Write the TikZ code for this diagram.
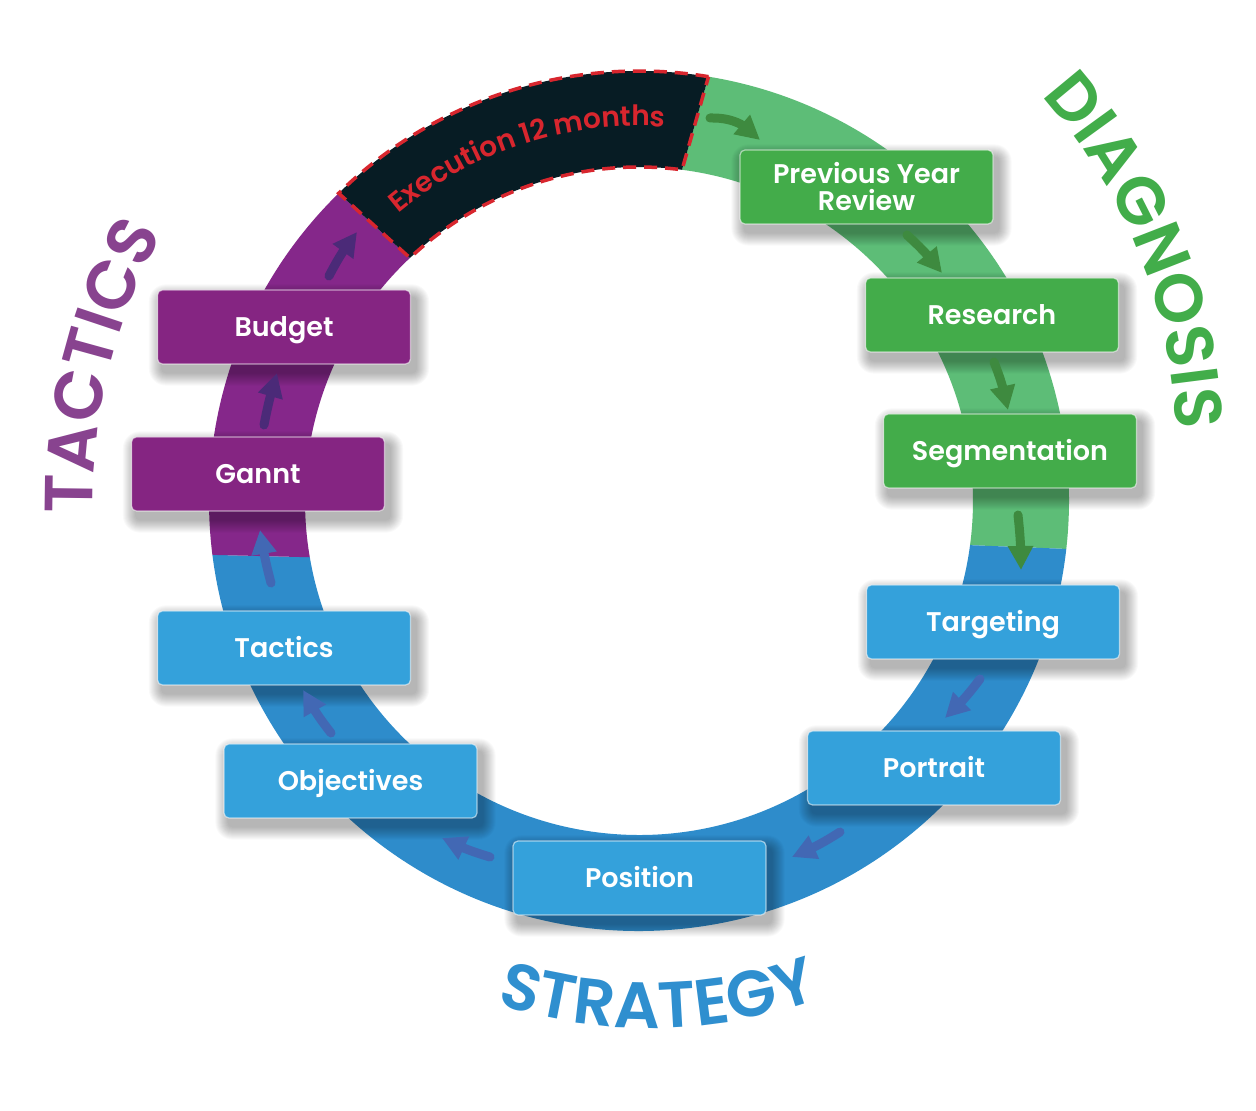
\documentclass[tikz,border=0pt]{standalone}
\usepackage{fontspec}
\newfontfamily\boxfont{Poppins SemiBold}
\newfontfamily\headfont{Poppins SemiBold}
\usetikzlibrary{arrows.meta,decorations.text,bending}
\pgfdeclarelayer{ringlayer}
\pgfdeclarelayer{shadowlayer}
\pgfsetlayers{ringlayer,shadowlayer,main}
\definecolor{ringgreen}{HTML}{5DBD77}
\definecolor{ringblue}{HTML}{2E8CCB}
\definecolor{ringpurple}{HTML}{85278A}
\definecolor{ringdark}{HTML}{071C24}
\definecolor{boxgreen}{HTML}{43AC4A}
\definecolor{boxblue}{HTML}{34A1DB}
\definecolor{boxpurple}{HTML}{852582}
\definecolor{arrgreen}{HTML}{3E8A3F}
\definecolor{arrblue}{HTML}{4268B4}
\definecolor{arrpurple}{HTML}{4B2A78}
\definecolor{labgreen}{HTML}{42AD4A}
\definecolor{labpurple}{HTML}{88438F}
\definecolor{labblue}{HTML}{2F8FCF}
\definecolor{execred}{HTML}{D8262E}
\begin{document}
\begin{tikzpicture}[x=1pt,y=1pt,
  stagebox/.style={rectangle, rounded corners=5pt, minimum width=253pt, minimum height=74pt,
    inner sep=0pt, text=white, align=center,
    font=\boxfont\fontsize{27}{27}\selectfont,
    draw=white, draw opacity=0.55, line width=1.2pt},
  onelinebox/.style={text height=19pt, text depth=0pt},
  greenbox/.style={stagebox, fill=boxgreen},
  bluebox/.style={stagebox, fill=boxblue},
  purplebox/.style={stagebox, fill=boxpurple},
  shadowlayerfill/.style={fill=black, opacity=0.024},
  flowarrow/.style={line width=9pt, line cap=round, -{Triangle[length=24pt,width=24pt]}}
]
\useasboundingbox (0,0) rectangle (1256,1111);

\begin{pgfonlayer}{ringlayer}
\fill[white] (0,0) rectangle (1256,1111);
\begin{scope}[shift={(639,610)}]
  \fill[ringgreen] (-6.4:430pt) arc[start angle=-6.4, end angle=80.7, radius=430pt]
     -- (82.6:334pt) arc[start angle=82.6, end angle=-7.6, radius=334pt] -- cycle;
  \fill[ringblue] (187.2:430pt) arc[start angle=187.2, end angle=353.6, radius=430pt]
     -- (352.4:334pt) arc[start angle=352.4, end angle=189.7, radius=334pt] -- cycle;
  \fill[ringpurple] (134.3:430pt) arc[start angle=134.3, end angle=187.2, radius=430pt]
     -- (189.7:334pt) arc[start angle=189.7, end angle=133.3, radius=334pt] -- cycle;
  \fill[ringdark] (80.7:430pt) arc[start angle=80.7, end angle=134.3, radius=430pt]
     -- (133.3:334pt) arc[start angle=133.3, end angle=82.6, radius=334pt] -- cycle;
  \draw[execred, line width=3.5pt, dash pattern=on 13pt off 8pt]
     (80.7:430pt) arc[start angle=80.7, end angle=134.3, radius=430pt]
     -- (133.3:334pt) arc[start angle=133.3, end angle=82.6, radius=334pt] -- cycle;
\end{scope}
\end{pgfonlayer}

\begin{scope}[shift={(639,610)}]
  \path[decorate, decoration={text along path, text align=center, text color=execred,
      text={|\headfont\fontsize{28}{30}\selectfont|Execution 12 months}}]
     (150:375pt) arc[start angle=150, end angle=66, radius=375pt];
  % TACTICS
  \path[decorate, decoration={text along path, text align=center, text color=labpurple,
      text={|\headfont\fontsize{68}{70}\selectfont|TACTICS}}]
     (196:546pt) arc[start angle=196, end angle=136, radius=546pt];
\end{scope}

% DIAGNOSIS
\begin{scope}[shift={(655,665)}]
  \path[decorate, decoration={text along path, text align=center, text color=labgreen,
      text={|\headfont\fontsize{67}{69}\selectfont|DIAGNOSIS}}]
     (58:521pt) arc[start angle=58, end angle=-14, radius=521pt];
\end{scope}

% STRATEGY
\begin{scope}[shift={(650,583)}]
  \path[decorate, decoration={text along path, text align=center, text color=labblue,
      text={|\headfont\fontsize{65}{67}\selectfont|STRATEGY}}]
     (-130:500pt) arc[start angle=-130, end angle=-48, radius=500pt];
\end{scope}

% boxes
\node[greenbox] (pyr) at (866.5,924) {Previous Year\\Review};
\node[greenbox, onelinebox] (res) at (992,796) {Research};
\node[greenbox, onelinebox] (seg) at (1010,660) {Segmentation};
\node[bluebox, onelinebox] (tar) at (993,489) {Targeting};
\node[bluebox, onelinebox] (por) at (934,343) {Portrait};
\node[bluebox, onelinebox] (pos) at (639.5,233) {Position};
\node[bluebox, onelinebox] (obj) at (350.5,330) {Objectives};
\node[bluebox, onelinebox] (tac) at (284,463) {Tactics};
\node[purplebox, onelinebox] (gan) at (258,637) {Gannt};
\node[purplebox, onelinebox] (bud) at (284,784) {Budget};

% soft shadows
\begin{pgfonlayer}{shadowlayer}
\foreach \n in {pyr,res,seg,tar,por,pos,obj,tac,gan,bud}{
  \foreach \k in {1,...,13}{
    \pgfmathsetmacro\rc{\k+4}
    \fill[shadowlayerfill, rounded corners=\rc pt]
      ([shift={(5-\k,-8-\k)}]\n.south west) rectangle ([shift={(5+\k,-8+\k)}]\n.north east);
  }
}
\end{pgfonlayer}

% arrow end points
\coordinate (a1s) at (710,993);  \coordinate (a1e) at (760,971);
\coordinate (a2s) at (907,876);  \coordinate (a2e) at (942,838);
\coordinate (a3s) at (994,749);  \coordinate (a3e) at (1008,701);
\coordinate (a4s) at (1018,596); \coordinate (a4e) at (1021,541);
\coordinate (a5s) at (980,432);  \coordinate (a5e) at (945,393);
\coordinate (a6s) at (840,279);  \coordinate (a6e) at (792,254);
\coordinate (a7s) at (490,254);  \coordinate (a7e) at (442,273);
\coordinate (a8s) at (331,378);  \coordinate (a8e) at (303,421);
\coordinate (a9s) at (271,528);  \coordinate (a9e) at (260,581);
\coordinate (a10s) at (264,686); \coordinate (a10e) at (277,738);
\coordinate (a11s) at (329,835); \coordinate (a11e) at (357,879);

\draw[flowarrow, arrgreen] (a1s) to[bend left=25] (a1e);
\draw[flowarrow, arrgreen] (a2s) to[bend left=5] (a2e);
\draw[flowarrow, arrgreen] (a3s) to[bend left=5] (a3e);
\draw[flowarrow, arrgreen] (a4s) to[bend left=3] (a4e);
\draw[flowarrow, arrblue] (a5s) to[bend left=5] (a5e);
\draw[flowarrow, arrblue] (a6s) to[bend left=5] (a6e);
\draw[flowarrow, arrblue] (a7s) to[bend left=5] (a7e);
\draw[flowarrow, arrblue] (a8s) to[bend left=5] (a8e);
\draw[flowarrow, arrblue] (a9s) to[bend left=3] (a9e);
\draw[flowarrow, arrpurple] (a10s) to[bend left=3] (a10e);
\draw[flowarrow, arrpurple] (a11s) to[bend left=5] (a11e);
\end{tikzpicture}
\end{document}
